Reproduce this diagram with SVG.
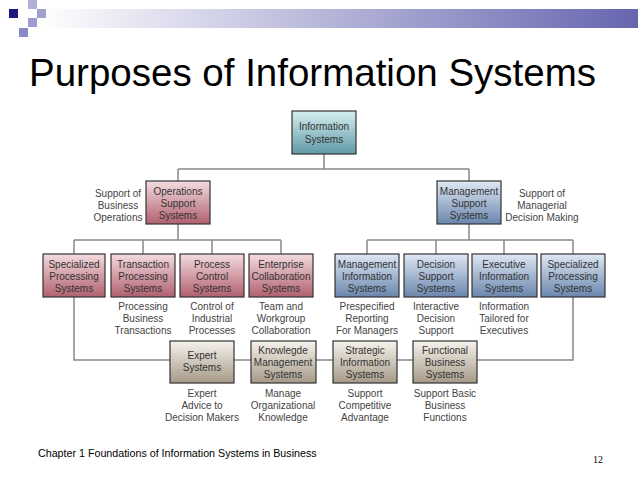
<svg xmlns="http://www.w3.org/2000/svg" width="638" height="478" viewBox="0 0 638 478">
<defs>
<linearGradient id="bar" x1="0" x2="1" y1="0" y2="0"><stop offset="0" stop-color="#ffffff"/><stop offset="1" stop-color="#6666b0"/></linearGradient>
<linearGradient id="teal" x1="0" x2="0" y1="0" y2="1"><stop offset="0" stop-color="#d6eef0"/><stop offset="1" stop-color="#5f9aa6"/></linearGradient>
<linearGradient id="red" x1="0" x2="0" y1="0" y2="1"><stop offset="0" stop-color="#f4dce0"/><stop offset="1" stop-color="#b0606e"/></linearGradient>
<linearGradient id="blue" x1="0" x2="0" y1="0" y2="1"><stop offset="0" stop-color="#dfe8f4"/><stop offset="1" stop-color="#6a86ad"/></linearGradient>
<linearGradient id="tan" x1="0" x2="0" y1="0" y2="1"><stop offset="0" stop-color="#f6f2ec"/><stop offset="1" stop-color="#a69a88"/></linearGradient>
</defs>
<style>
.b{stroke:#333;stroke-width:1.2}
.t{font-family:"Liberation Sans",Arial,sans-serif;font-size:10px;fill:#333;text-anchor:middle}
.d{font-family:"Liberation Sans",Arial,sans-serif;font-size:10px;fill:#444;text-anchor:middle}
.ln{stroke:#888;stroke-width:1.5;fill:none}
</style>
<rect width="638" height="478" fill="#fff"/>
<rect x="40" y="9" width="598" height="19" fill="url(#bar)"/>
<rect x="9" y="9" width="9" height="9" fill="#1a1a80"/>
<rect x="28" y="0" width="9" height="9" fill="#b0b0d8"/>
<rect x="28" y="18" width="9" height="9" fill="#9c9cd0"/>
<rect x="19" y="28" width="9" height="9" fill="#8a8ac4"/>
<rect x="37" y="9" width="9" height="9" fill="#a0a0d0"/>
<text x="29" y="86" font-family="Liberation Sans,Arial,sans-serif" font-size="38.5" fill="#000">Purposes of Information Systems</text>
<g id="connectors">
<path class="ln" d="M324 154V169M178 169H469M178 169V181M469 169V181M178 224V240M469 224V240M74 240H281M74 240V254M143 240V254M212 240V254M281 240V254M367 240H573M367 240V254M436 240V254M504 240V254M573 240V254M74 297V360H573V297"/>
</g>
<g id="is"><rect class="b" x="292" y="111" width="64" height="43" fill="url(#teal)"/><text class="t" x="324" y="130">Information</text><text class="t" x="324" y="143">Systems</text></g>
<g id="oss"><rect class="b" x="146" y="181" width="64" height="43" fill="url(#red)"/><text class="t" x="178" y="195">Operations</text><text class="t" x="178" y="207">Support</text><text class="t" x="178" y="219">Systems</text></g>
<g id="oss-d"><text class="d" x="118" y="197">Support of</text><text class="d" x="118" y="209">Business</text><text class="d" x="118" y="221">Operations</text></g>
<g id="mss"><rect class="b" x="437" y="181" width="64" height="43" fill="url(#blue)"/><text class="t" x="469" y="195">Management</text><text class="t" x="469" y="207">Support</text><text class="t" x="469" y="219">Systems</text></g>
<g id="mss-d"><text class="d" x="542" y="197">Support of</text><text class="d" x="542" y="209">Managerial</text><text class="d" x="542" y="221">Decision Making</text></g>
<g id="sp1"><rect class="b" x="43" y="254" width="62" height="43" fill="url(#red)"/><text class="t" x="74" y="268">Specialized</text><text class="t" x="74" y="280">Processing</text><text class="t" x="74" y="292">Systems</text></g>
<g id="tps"><rect class="b" x="111" y="254" width="64" height="43" fill="url(#red)"/><text class="t" x="143" y="268">Transaction</text><text class="t" x="143" y="280">Processing</text><text class="t" x="143" y="292">Systems</text><text class="d" x="143" y="310">Processing</text><text class="d" x="143" y="322">Business</text><text class="d" x="143" y="334">Transactions</text></g>
<g id="pcs"><rect class="b" x="180" y="254" width="64" height="43" fill="url(#red)"/><text class="t" x="212" y="268">Process</text><text class="t" x="212" y="280">Control</text><text class="t" x="212" y="292">Systems</text><text class="d" x="212" y="310">Control of</text><text class="d" x="212" y="322">Industrial</text><text class="d" x="212" y="334">Processes</text></g>
<g id="ecs"><rect class="b" x="249" y="254" width="64" height="43" fill="url(#red)"/><text class="t" x="281" y="268">Enterprise</text><text class="t" x="281" y="280">Collaboration</text><text class="t" x="281" y="292">Systems</text><text class="d" x="281" y="310">Team and</text><text class="d" x="281" y="322">Workgroup</text><text class="d" x="281" y="334">Collaboration</text></g>
<g id="mis"><rect class="b" x="335" y="254" width="64" height="43" fill="url(#blue)"/><text class="t" x="367" y="268">Management</text><text class="t" x="367" y="280">Information</text><text class="t" x="367" y="292">Systems</text><text class="d" x="367" y="310">Prespecified</text><text class="d" x="367" y="322">Reporting</text><text class="d" x="367" y="334">For Managers</text></g>
<g id="dss"><rect class="b" x="404" y="254" width="64" height="43" fill="url(#blue)"/><text class="t" x="436" y="268">Decision</text><text class="t" x="436" y="280">Support</text><text class="t" x="436" y="292">Systems</text><text class="d" x="436" y="310">Interactive</text><text class="d" x="436" y="322">Decision</text><text class="d" x="436" y="334">Support</text></g>
<g id="eis"><rect class="b" x="472" y="254" width="65" height="43" fill="url(#blue)"/><text class="t" x="504" y="268">Executive</text><text class="t" x="504" y="280">Information</text><text class="t" x="504" y="292">Systems</text><text class="d" x="504" y="310">Information</text><text class="d" x="504" y="322">Tailored for</text><text class="d" x="504" y="334">Executives</text></g>
<g id="sp2"><rect class="b" x="541" y="254" width="64" height="43" fill="url(#blue)"/><text class="t" x="573" y="268">Specialized</text><text class="t" x="573" y="280">Processing</text><text class="t" x="573" y="292">Systems</text></g>
<g id="es"><rect class="b" x="170" y="341" width="64" height="42" fill="url(#tan)"/><text class="t" x="202" y="359">Expert</text><text class="t" x="202" y="371">Systems</text><text class="d" x="202" y="397">Expert</text><text class="d" x="202" y="409">Advice to</text><text class="d" x="202" y="421">Decision Makers</text></g>
<g id="kms"><rect class="b" x="251" y="341" width="65" height="42" fill="url(#tan)"/><text class="t" x="283" y="354">Knowlegde</text><text class="t" x="283" y="366">Management</text><text class="t" x="283" y="378">Systems</text><text class="d" x="283" y="397">Manage</text><text class="d" x="283" y="409">Organizational</text><text class="d" x="283" y="421">Knowledge</text></g>
<g id="sis"><rect class="b" x="333" y="341" width="64" height="42" fill="url(#tan)"/><text class="t" x="365" y="354">Strategic</text><text class="t" x="365" y="366">Information</text><text class="t" x="365" y="378">Systems</text><text class="d" x="365" y="397">Support</text><text class="d" x="365" y="409">Competitive</text><text class="d" x="365" y="421">Advantage</text></g>
<g id="fbs"><rect class="b" x="413" y="341" width="64" height="42" fill="url(#tan)"/><text class="t" x="445" y="354">Functional</text><text class="t" x="445" y="366">Business</text><text class="t" x="445" y="378">Systems</text><text class="d" x="445" y="397">Support Basic</text><text class="d" x="445" y="409">Business</text><text class="d" x="445" y="421">Functions</text></g>
<text x="38" y="457" font-family="Liberation Sans,Arial,sans-serif" font-size="10.7" fill="#000">Chapter 1 Foundations of Information Systems in Business</text>
<text x="598" y="463" font-family="Liberation Serif,serif" font-size="10" fill="#000" text-anchor="middle">12</text>
</svg>
